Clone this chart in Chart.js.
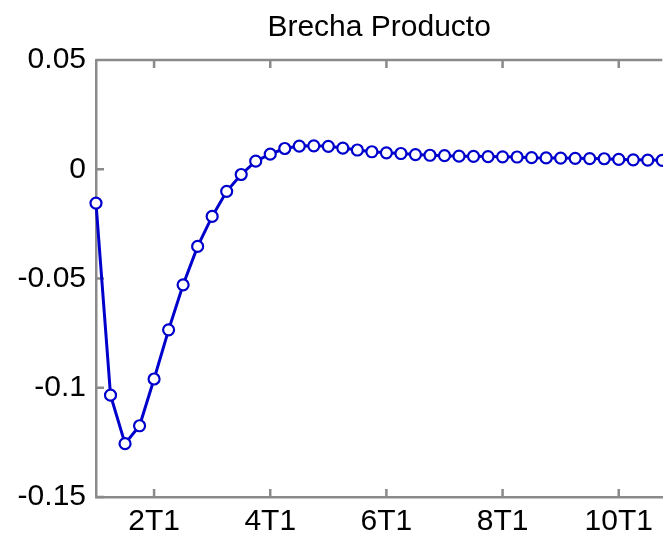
<!DOCTYPE html>
<html>
<head>
<meta charset="utf-8">
<script src="https://cdn.jsdelivr.net/npm/chart.js@4/dist/chart.umd.min.js"></script>
<style>
html,body{margin:0;padding:0;background:#fff;overflow:hidden;}
#wrap{width:670px;height:537px;}
</style>
</head>
<body>
<div id="wrap"><canvas id="c" width="670" height="537"></canvas></div>
<script>
const title = 'Brecha Producto';
const categories = ['1T1','1T2','1T3','1T4','2T1','2T2','2T3','2T4','3T1','3T2','3T3','3T4','4T1','4T2','4T3','4T4','5T1','5T2','5T3','5T4','6T1','6T2','6T3','6T4','7T1','7T2','7T3','7T4','8T1','8T2','8T3','8T4','9T1','9T2','9T3','9T4','10T1','10T2','10T3','10T4'];
const tickLabels = ['2T1','4T1','6T1','8T1','10T1'];
const brechaProducto = [-0.0155,-0.1034,-0.1256,-0.1174,-0.0960,-0.0735,-0.0529,-0.0353,-0.0216,-0.0101,
  -0.0024,0.0037,0.0069,0.0095,0.0106,0.0107,0.0105,0.0097,0.0088,0.0080,
  0.0075,0.0072,0.0067,0.0064,0.0062,0.0060,0.0059,0.0058,0.0057,0.0056,
  0.0053,0.0052,0.0051,0.0050,0.0049,0.0048,0.0045,0.0043,0.0042,0.0041];
const yMin = -0.15, yMax = 0.05, yStep = 0.05;

const AXIS = '#8a8a8a';
const FONT = "'Liberation Sans', Arial, sans-serif";

const inwardTicks = {
  id: 'inwardTicks',
  beforeDatasetsDraw(chart) {
    const {ctx, chartArea: a, scales: {x, y}} = chart;
    ctx.save();
    ctx.strokeStyle = AXIS;
    ctx.lineWidth = 2.5;
    ctx.beginPath();
    ctx.moveTo(a.left, a.top); ctx.lineTo(a.right, a.top);
    x.ticks.forEach(t => {
      const px = x.getPixelForValue(t.value);
      ctx.moveTo(px, a.bottom); ctx.lineTo(px, a.bottom - 8);
      ctx.moveTo(px, a.top); ctx.lineTo(px, a.top + 8);
    });
    y.ticks.forEach(t => {
      const py = y.getPixelForValue(t.value);
      ctx.moveTo(a.left, py); ctx.lineTo(a.left + 8, py);
    });
    ctx.stroke();
    ctx.restore();
  }
};

new Chart(document.getElementById('c'), {
  type: 'line',
  data: {
    labels: categories,
    datasets: [{
      data: brechaProducto,
      borderColor: '#0000cc',
      borderWidth: 3,
      pointStyle: 'circle',
      pointRadius: 5.5,
      pointBorderWidth: 2.2,
      pointBorderColor: '#0000cc',
      pointBackgroundColor: '#ffffff',
      tension: 0,
      fill: false
    }]
  },
  options: {
    responsive: false,
    animation: false,
    layout: {padding: {top: 0, right: 5, bottom: 0, left: 0}},
    plugins: {
      legend: {display: false},
      tooltip: {enabled: false},
      title: {
        display: true,
        text: title,
        fullSize: false,
        color: '#000',
        font: {family: FONT, size: 30, weight: 'normal'},
        padding: {top: 10, bottom: 14}
      }
    },
    scales: {
      x: {
        type: 'category',
        offset: false,
        afterBuildTicks(scale) {
          scale.ticks = scale.ticks.filter(t => tickLabels.includes(categories[t.value]));
        },
        afterFit(scale) { scale.height = 40; },
        grid: {display: true, drawOnChartArea: false, drawTicks: false},
        border: {display: true, color: AXIS, width: 2.5},
        ticks: {
          autoSkip: false,
          maxRotation: 0,
          padding: 7,
          color: '#000',
          font: {family: FONT, size: 30},
          callback(v) { return categories[v]; }
        }
      },
      y: {
        min: yMin,
        max: yMax,
        afterFit(scale) { scale.width = 96; },
        grid: {display: true, drawOnChartArea: false, drawTicks: false},
        border: {display: true, color: AXIS, width: 2.5},
        ticks: {
          stepSize: yStep,
          padding: 10,
          color: '#000',
          font: {family: FONT, size: 30},
          callback(v) { return String(parseFloat(Number(v).toFixed(2))); }
        }
      }
    }
  },
  plugins: [inwardTicks]
});
</script>
</body>
</html>
